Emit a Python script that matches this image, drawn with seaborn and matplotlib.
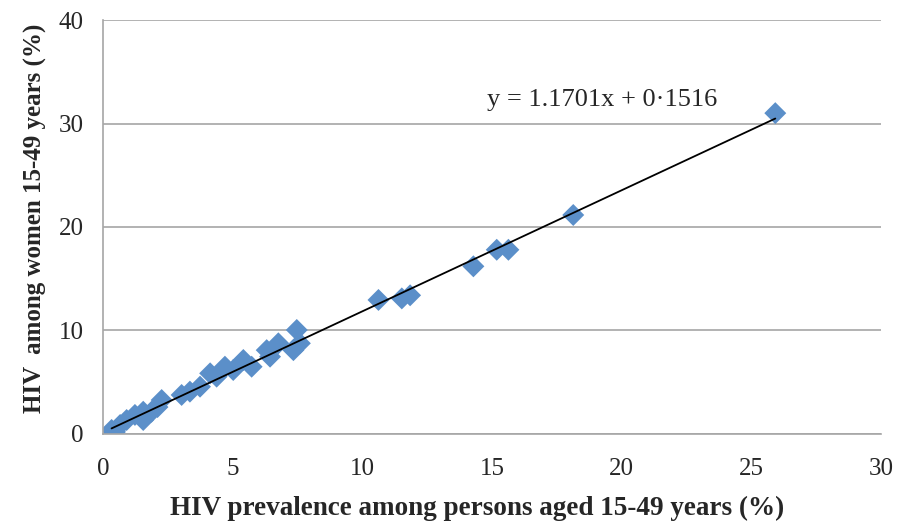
import matplotlib
matplotlib.use("Agg")
import matplotlib.pyplot as plt
import seaborn as sns
import pandas as pd
import numpy as np

# HIV prevalence among persons 15-49 (%) vs among women 15-49 (%)
prev_all = [0.33, 0.46, 0.66, 0.91, 1.23, 1.55, 1.55, 1.87, 2.1, 2.26,
            3.03, 3.35, 3.74, 4.13, 4.38, 4.70, 5.02, 5.41, 5.73,
            6.31, 6.44, 6.76, 7.34, 7.47, 7.59,
            10.62, 11.52, 11.84, 14.28, 15.18, 15.63, 18.13, 25.92]
prev_women = [0.39, 0.2, 0.87, 1.35, 1.84, 2.15, 1.35, 2.15, 2.6, 3.28,
              3.77, 4.09, 4.57, 5.86, 5.54, 6.5, 6.18, 7.15, 6.5,
              8.1, 7.47, 8.76, 8.1, 10.05, 8.76,
              12.95, 13.1, 13.4, 16.2, 17.8, 17.8, 21.16, 31.0]

# trendline reported on the chart
slope = 1.1701
intercept = 0.1516
eq_label = "y = 1.1701x + 0\u00b71516"

x_ticks = [0, 5, 10, 15, 20, 25, 30]
y_ticks = [0, 10, 20, 30, 40]

df = pd.DataFrame({"all": prev_all, "women": prev_women})

sns.set_style("white")
plt.rcParams["font.family"] = ["Liberation Serif", "DejaVu Serif"]

fig = plt.figure(figsize=(8.99, 5.24), dpi=100)
ax = fig.add_axes([0.1146, 0.1718, 0.8655, 0.79])

ax.yaxis.grid(True, color="#a6a6a6", linewidth=1.2)
ax.set_axisbelow(True)

sns.scatterplot(data=df, x="all", y="women", marker="D", s=125,
                color="#5b8fc9", edgecolor="none", ax=ax, zorder=2)

line_x = np.array([min(prev_all), max(prev_all)])
line_y = slope * line_x + intercept
sns.lineplot(x=line_x, y=line_y, color="black", linewidth=1.3, ax=ax, zorder=3)

ax.annotate(eq_label, xy=(14.8, 31.7), fontsize=19, va="baseline")

ax.set_xlim(0, 30)
ax.set_ylim(0, 40)
ax.set_xticks(x_ticks)
ax.set_yticks(y_ticks)
ax.tick_params(axis="both", labelsize=18, length=6, width=1.2,
               color="#a6a6a6", direction="out", pad=8)
ax.tick_params(axis="x", pad=11)

for side in ["top", "right"]:
    ax.spines[side].set_visible(False)
for side in ["left", "bottom"]:
    ax.spines[side].set_color("#a6a6a6")
    ax.spines[side].set_linewidth(1.2)

ax.set_xlabel("HIV prevalence among persons aged 15-49 years (%)",
              fontsize=19.5, fontweight="bold", va="center")
ax.set_ylabel("HIV  among women 15-49 years (%)",
              fontsize=18, fontweight="bold", va="center")
ax.xaxis.set_label_coords(0.481, -0.179)
ax.yaxis.set_label_coords(-0.087, 0.522)

plt.savefig("out.png", dpi=100)
